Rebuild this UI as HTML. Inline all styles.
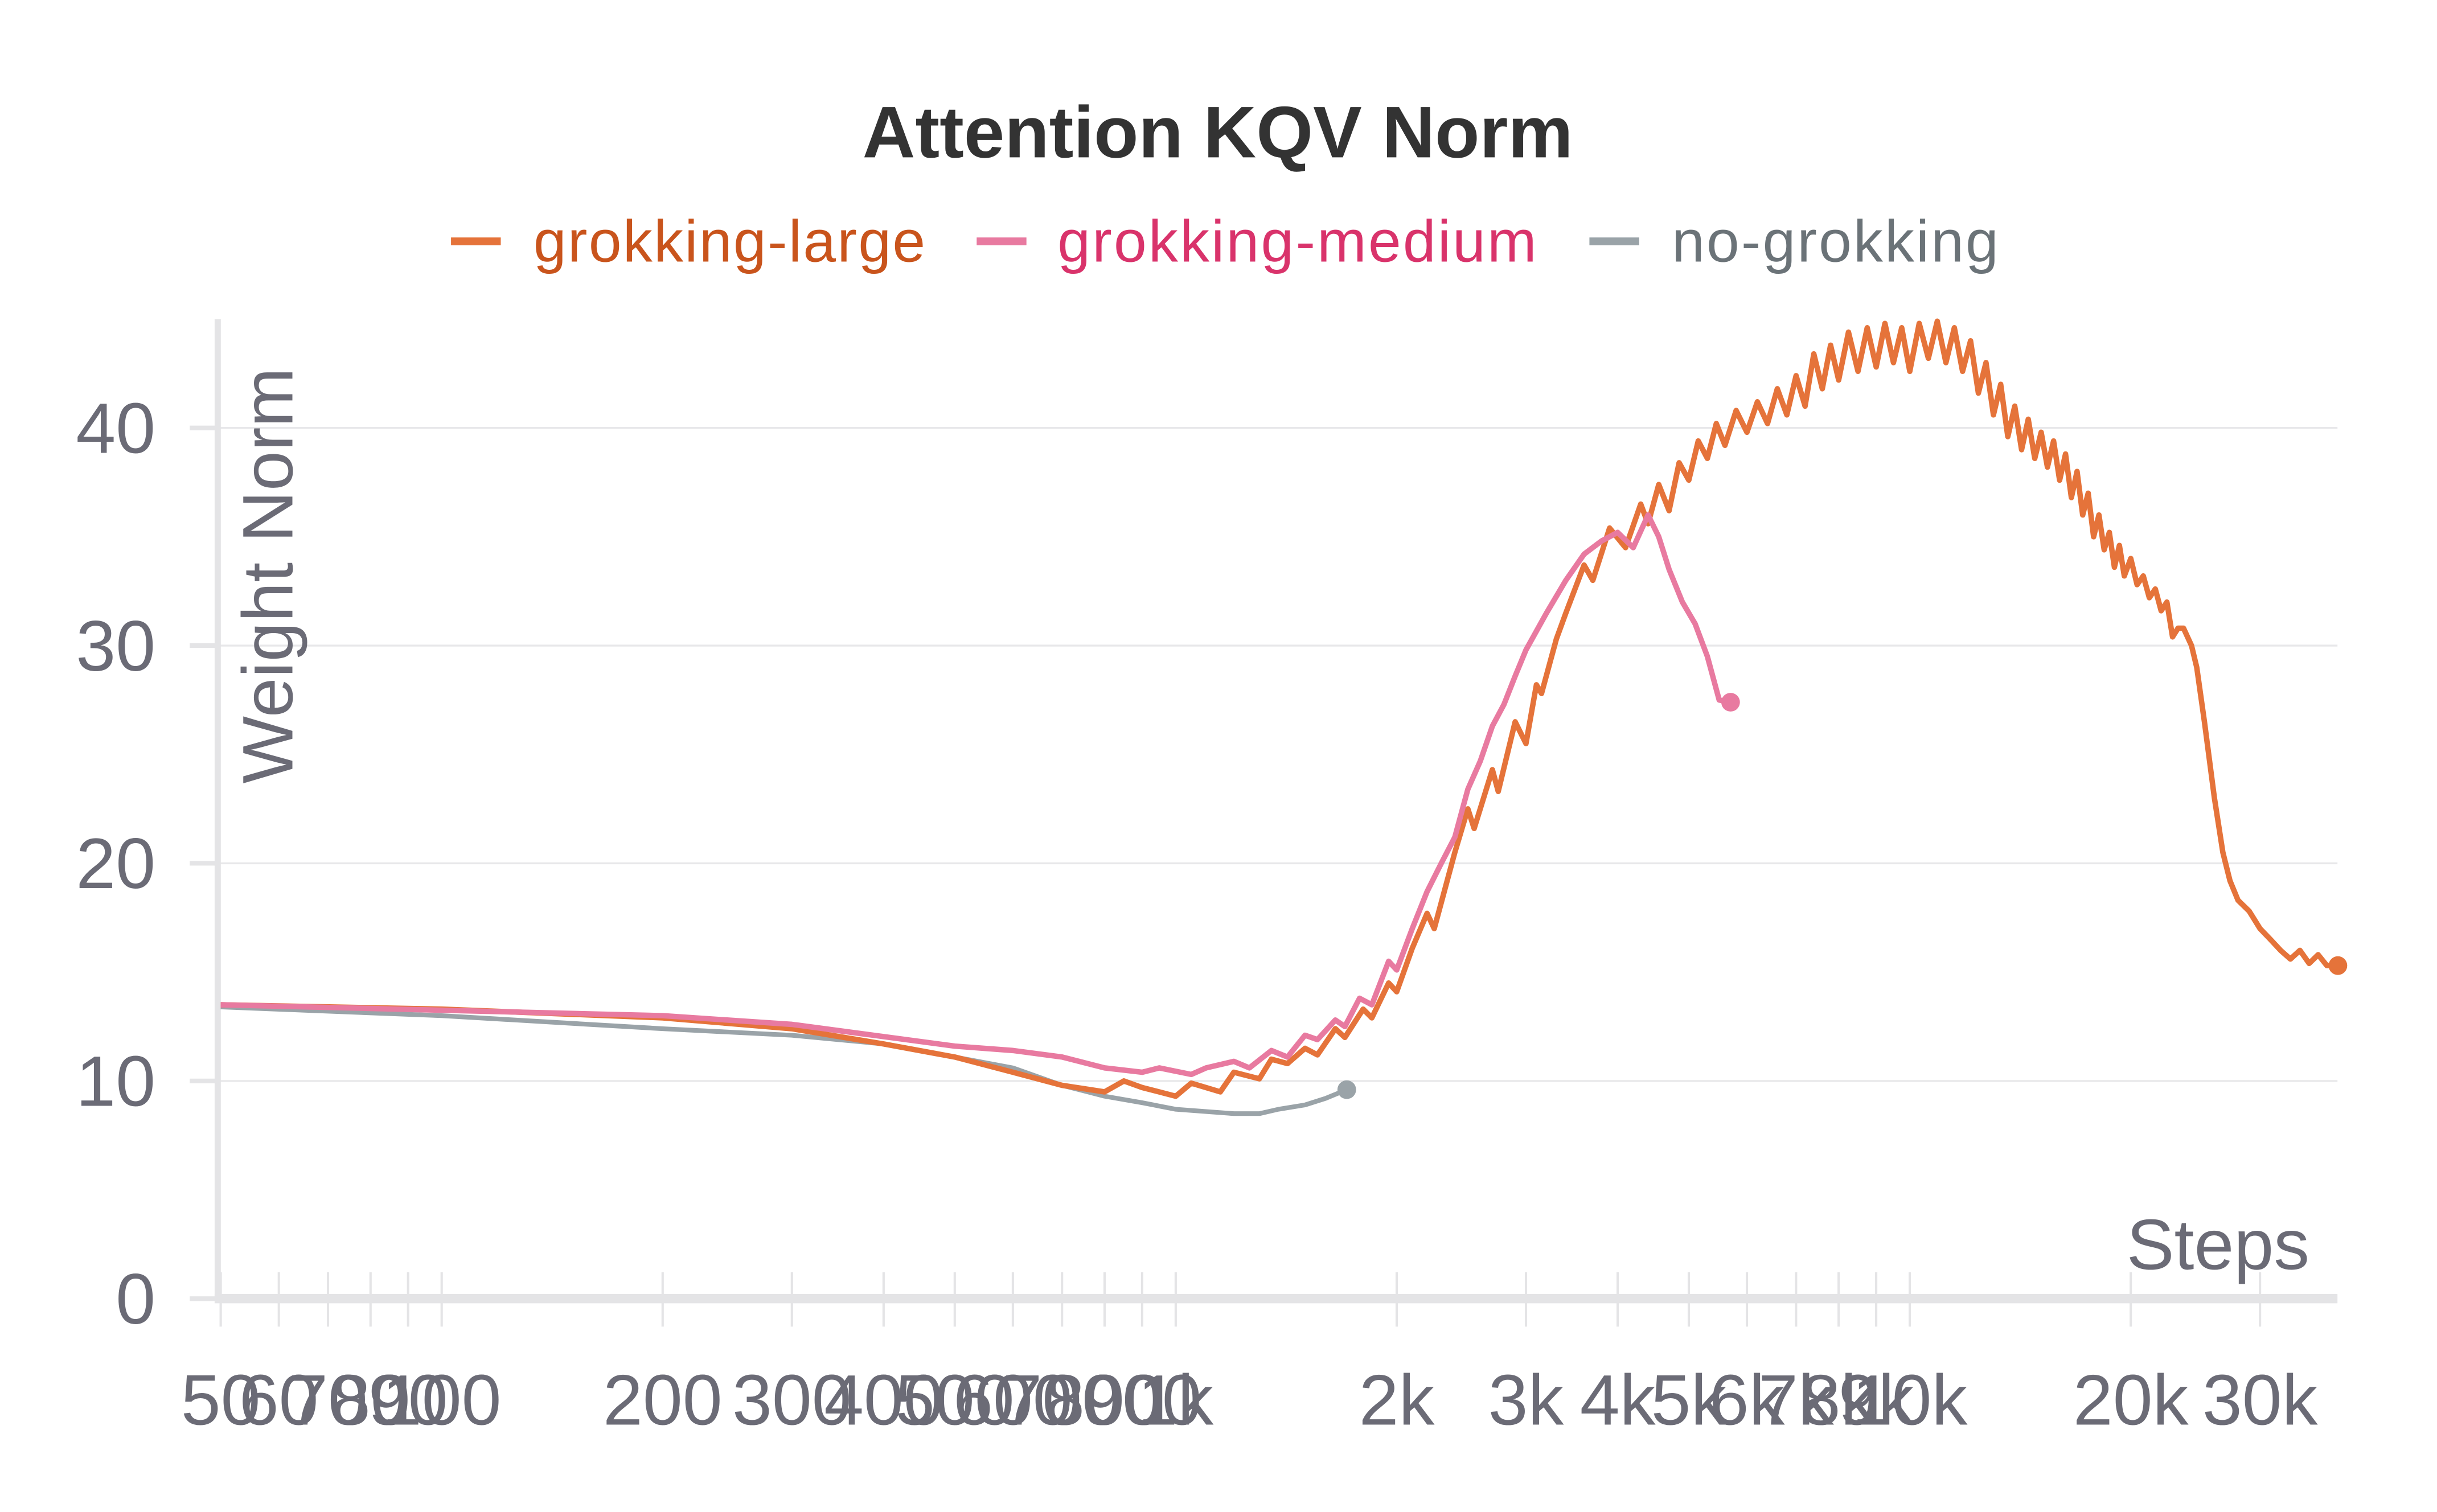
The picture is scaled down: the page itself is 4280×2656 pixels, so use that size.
<!DOCTYPE html>
<html><head><meta charset="utf-8"><style>
html,body{margin:0;padding:0;background:#fff;}
svg{display:block;}
text{font-family:"Liberation Sans","DejaVu Sans",sans-serif;}
</style></head><body>
<svg id="chart" width="4280" height="2656" viewBox="0 0 1567 972" xmlns="http://www.w3.org/2000/svg">
<text x="783" y="101" text-anchor="middle" font-size="47" font-weight="bold" fill="#333">Attention KQV Norm</text>
<g>
<g><line x1="290" y1="155" x2="322" y2="155" stroke="#e5733a" stroke-width="5"/><text x="343" y="168" font-size="38" fill="#c9541c" textLength="252">grokking-large</text></g>
<g><line x1="628" y1="155" x2="660" y2="155" stroke="#e87aa0" stroke-width="5"/><text x="680" y="168" font-size="38" fill="#d9336b" textLength="308">grokking-medium</text></g>
<g><line x1="1022" y1="155" x2="1054" y2="155" stroke="#9aa3a8" stroke-width="5"/><text x="1075" y="168" font-size="38" fill="#6b7378" textLength="210">no-grokking</text></g>
</g>
<g id="grid"></g>
<g id="axes"></g>
<g id="series"></g>
<text transform="translate(188,370) rotate(-90)" text-anchor="middle" font-size="46" fill="#6b6b76">Weight Norm</text>
<text x="1485" y="816" text-anchor="end" font-size="46" fill="#6b6b76">Steps</text>
</svg>
<script>
const yTicks=[0,10,20,30,40];
const xTickVals=[50,60,70,80,90,100,200,300,400,500,600,700,800,900,1000,2000,3000,4000,5000,6000,7000,8000,9000,10000,20000,30000];
const xTickLabels=["50","60","70","80","90","100","200","300","400","500","600","700","800","900","1k","2k","3k","4k","5k","6k","7k","8k","9k","10k","20k","30k"];
const largeSteps=[50,100,200,300,400,500,600,700,800,850,900,1000,1050,1150,1200,1300,1350,1420,1500,1560,1650,1700,1800,1850,1950,2000,2100,2200,2250,2400,2500,2550,2700,2750,2900,3000,3100,3150,3300,3400,3600,3700,3900,4100,4300,4400,4550,4700,4850,5000,5150,5300,5450,5600,5800,6000,6200,6400,6600,6800,7000,7200,7400,7600,7800,8000,8250,8500,8750,9000,9250,9500,9750,10000,10300,10600,10900,11200,11500,11800,12100,12400,12700,13000,13300,13600,13900,14200,14500,14800,15100,15400,15700,16000,16300,16600,16900,17200,17500,17800,18100,18400,18700,19000,19300,19600,20000,20400,20800,21200,21600,22000,22400,22800,23200,23600,24200,24600,25200,26000,26700,27300,28000,29000,30000,31000,32000,33000,34000,35000,36000,37000,38300];
const largeVals=[13.5,13.3,12.9,12.4,11.7,11.1,10.4,9.8,9.5,10.0,9.7,9.3,9.9,9.5,10.4,10.1,11.0,10.8,11.5,11.2,12.4,12.0,13.3,12.9,14.5,14.1,16.1,17.7,17.0,20.5,22.5,21.6,24.3,23.3,26.5,25.5,28.2,27.8,30.3,31.5,33.7,33.0,35.4,34.5,36.5,35.6,37.4,36.2,38.4,37.6,39.4,38.6,40.2,39.2,40.8,39.8,41.2,40.2,41.8,40.6,42.4,41.0,43.4,41.8,43.8,42.2,44.4,42.6,44.6,42.8,44.8,43.0,44.6,42.6,44.8,43.2,44.9,43.0,44.6,42.6,44.0,41.6,43.0,40.6,42.0,39.6,41.0,39.0,40.4,38.6,39.8,38.2,39.4,37.6,38.8,36.8,38.0,36.0,37.0,35.0,36.0,34.4,35.2,33.6,34.6,33.2,34.0,32.8,33.2,32.2,32.6,31.6,32.0,30.4,30.8,30.8,30.0,29.0,26.5,23.0,20.5,19.2,18.3,17.8,17.0,16.5,16.0,15.6,16.0,15.4,15.8,15.3,15.3];
const mediumSteps=[50,200,300,500,600,700,800,900,950,1050,1100,1200,1260,1350,1420,1500,1560,1650,1700,1780,1850,1950,2000,2100,2200,2300,2400,2500,2600,2700,2800,2900,3000,3200,3400,3600,3800,4000,4200,4400,4550,4700,4900,5100,5300,5500,5700];
const mediumVals=[13.5,13.0,12.6,11.6,11.4,11.1,10.6,10.4,10.6,10.3,10.6,10.9,10.6,11.4,11.1,12.1,11.9,12.8,12.5,13.8,13.5,15.5,15.1,17.0,18.7,20.0,21.2,23.4,24.7,26.3,27.3,28.6,29.8,31.5,33.0,34.2,34.8,35.2,34.5,36.0,35.0,33.5,32.0,31.0,29.5,27.5,27.4];
const noSteps=[50,100,200,300,400,500,600,700,800,900,1000,1200,1300,1380,1500,1600,1710];
const noVals=[13.4,13.0,12.4,12.1,11.7,11.1,10.6,9.8,9.3,9.0,8.7,8.5,8.5,8.7,8.9,9.2,9.6];

const NS='http://www.w3.org/2000/svg';
const X0=140,X1=1503,Y0=835;
function xs(v){return 284+472*Math.log10(v/100);}
function ys(v){return Y0-14*v;}
function mk(tag,attrs,parent){const e=document.createElementNS(NS,tag);for(const k in attrs)e.setAttribute(k,attrs[k]);parent.appendChild(e);return e;}
const grid=document.getElementById('grid'),axes=document.getElementById('axes'),series=document.getElementById('series');
yTicks.forEach(t=>{
  if(t>0){const g=mk('line',{x1:X0,x2:X1,y1:ys(t),y2:ys(t),stroke:'#e8e8ea','stroke-width':1.2},grid);
  
  }
  const tk=mk('line',{x1:122,x2:X0,y1:ys(t),y2:ys(t),stroke:'#e4e4e6','stroke-width':3},axes);
  
  
  const lb=mk('text',{x:100,y:ys(t)+16,'text-anchor':'end','font-size':46,fill:'#6b6b76'},axes);
  lb.textContent=t;
  
  
});
xTickVals.forEach((v,i)=>{
  const tk=mk('line',{x1:xs(v),x2:xs(v),y1:818,y2:853,stroke:'#e4e4e6','stroke-width':1.5},axes);
  
  
  const lb=mk('text',{x:xs(v),y:916,'text-anchor':'middle','font-size':46,fill:'#6b6b76'},axes);
  lb.textContent=xTickLabels[i];
  
  
});
const ya=mk('line',{x1:X0,x2:X0,y1:205,y2:Y0,stroke:'#e4e4e6','stroke-width':4},axes);


const xa=mk('line',{x1:X0-2,x2:X1,y1:Y0,y2:Y0,stroke:'#e4e4e6','stroke-width':6},axes);


function drawSeries(steps,vals,color,name,w){
  const d=steps.map((s,i)=>(i?'L':'M')+xs(s).toFixed(2)+','+ys(vals[i]).toFixed(2)).join(' ');
  const p=mk('path',{d:d,fill:'none',stroke:color,'stroke-width':w,'stroke-linejoin':'round'},series);
  
  
  const n=steps.length-1;
  const c=mk('circle',{cx:xs(steps[n]),cy:ys(vals[n]),r:6,fill:color},series);
  
  
}
drawSeries(noSteps,noVals,'#9aa3a8','no-grokking',3);
drawSeries(largeSteps,largeVals,'#e5733a','grokking-large',3.5);
drawSeries(mediumSteps,mediumVals,'#e87aa0','grokking-medium',3.5);
</script>
</body></html>
